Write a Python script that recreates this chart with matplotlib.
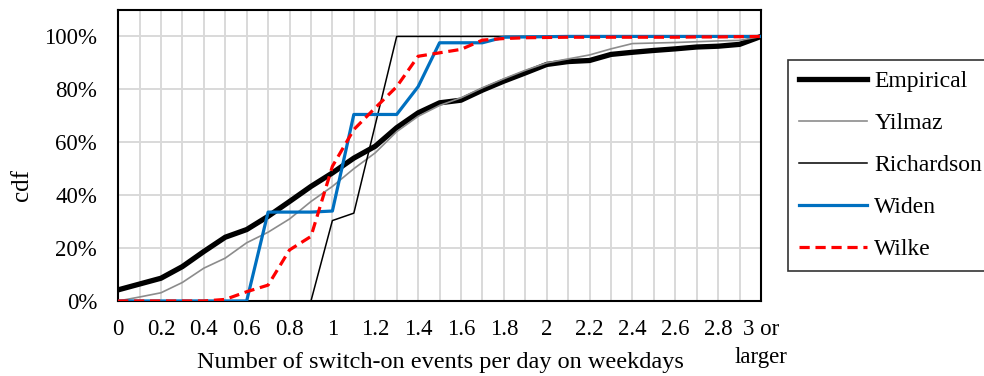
import matplotlib
matplotlib.use("Agg")
import matplotlib.pyplot as plt
from matplotlib.ticker import FixedLocator, PercentFormatter

plt.rcParams['font.family'] = ['Liberation Serif', 'DejaVu Serif']

# x categories: 0, 0.1, ..., 3 (last = "3 or larger")
x_values = [round(i * 0.1, 1) for i in range(31)]
tick_labels = ["0", "0.2", "0.4", "0.6", "0.8", "1", "1.2", "1.4", "1.6", "1.8",
               "2", "2.2", "2.4", "2.6", "2.8", "3 or\nlarger"]

empirical = [0.042, 0.064, 0.086, 0.13, 0.187, 0.241, 0.27, 0.32, 0.376, 0.433,
             0.484, 0.54, 0.585, 0.655, 0.711, 0.749, 0.759, 0.797, 0.831, 0.862,
             0.894, 0.905, 0.909, 0.932, 0.94, 0.947, 0.953, 0.96, 0.963, 0.970, 1.0]
yilmaz = [0.0, 0.015, 0.031, 0.07, 0.124, 0.162, 0.22, 0.26, 0.31, 0.376,
          0.433, 0.50, 0.56, 0.64, 0.698, 0.739, 0.768, 0.806, 0.84, 0.872,
          0.9, 0.915, 0.93, 0.953, 0.973, 0.975, 0.977, 0.98, 0.983, 0.985, 1.0]
richardson = [0, 0, 0, 0, 0, 0, 0, 0, 0, 0,
              0.304, 0.332, 0.666, 1.0, 1.0, 1.0, 1.0, 1.0, 1.0, 1.0,
              1.0, 1.0, 1.0, 1.0, 1.0, 1.0, 1.0, 1.0, 1.0, 1.0, 1.0]
widen = [0, 0, 0, 0, 0, 0, 0, 0.336, 0.336, 0.336,
         0.34, 0.705, 0.705, 0.705, 0.81, 0.976, 0.976, 0.976, 0.997, 0.998,
         0.999, 1.0, 1.0, 1.0, 1.0, 1.0, 1.0, 1.0, 1.0, 1.0, 1.0]
wilke = [0, 0, 0, 0, 0, 0.006, 0.035, 0.06, 0.193, 0.244,
         0.509, 0.648, 0.73, 0.81, 0.925, 0.938, 0.951, 0.986, 0.992, 0.995,
         0.996, 0.997, 0.997, 0.997, 0.997, 0.997, 0.997, 0.998, 0.998, 0.999, 1.0]

fig = plt.figure(figsize=(9.84, 3.76), dpi=100)
ax = fig.add_axes([0.12, 0.1995, 0.6534, 0.774])

idx = list(range(len(x_values)))
ax.plot(idx, empirical, color='black', lw=3.8, label='Empirical', solid_joinstyle='round', zorder=3)
ax.plot(idx, yilmaz, color='#8c8c8c', lw=1.2, label='Yilmaz', zorder=4)
ax.plot(idx, richardson, color='black', lw=1.1, label='Richardson', zorder=4)
ax.plot(idx, widen, color='#0070C0', lw=2.3, label='Widen', zorder=5)
ax.plot(idx, wilke, color='#FF0000', lw=2.3, ls=(0, (3.2, 1.8)), label='Wilke', zorder=6)

ax.set_xlim(0, 30)
ax.set_ylim(0, 1.1)
ax.xaxis.set_major_locator(FixedLocator(list(range(0, 31, 2))))
ax.set_xticklabels(tick_labels)
ax.xaxis.set_minor_locator(FixedLocator(list(range(1, 31, 2))))
ax.set_yticks([0, 0.2, 0.4, 0.6, 0.8, 1.0])
ax.yaxis.set_major_formatter(PercentFormatter(1.0, decimals=0))

ax.grid(True, which='both', axis='x', color='#d9d9d9', lw=1.4, zorder=0)
ax.grid(True, which='major', axis='y', color='#d9d9d9', lw=1.4, zorder=0)
ax.set_axisbelow(True)

ax.tick_params(axis='both', which='both', length=0, labelsize=16.5)
ax.tick_params(axis='x', pad=13)
ax.tick_params(axis='y', pad=15)
for lbl in ax.get_xticklabels():
    lbl.set_verticalalignment('top')
    lbl.set_linespacing(1.45)
for sp in ax.spines.values():
    sp.set_color('black')
    sp.set_linewidth(1.5)

ax.set_xlabel('Number of switch-on events per day on weekdays', fontsize=17.5, va='center')
ax.xaxis.set_label_coords((440 - 118) / 643, (301 - 363) / 291)
ax.set_ylabel('cdf', fontsize=18, va='center')
ax.yaxis.set_label_coords((22 - 118) / 643, (301 - 185) / 291)

leg = fig.legend(loc='upper left', bbox_to_anchor=(788 / 984, 1 - 60 / 376), fontsize=17,
                 frameon=True, fancybox=False, edgecolor='black', handlelength=2.9,
                 handletextpad=0.3, labelspacing=0.865, borderpad=0.45, borderaxespad=0)
leg.get_frame().set_linewidth(1.2)

fig.savefig('out.png', dpi=100)
